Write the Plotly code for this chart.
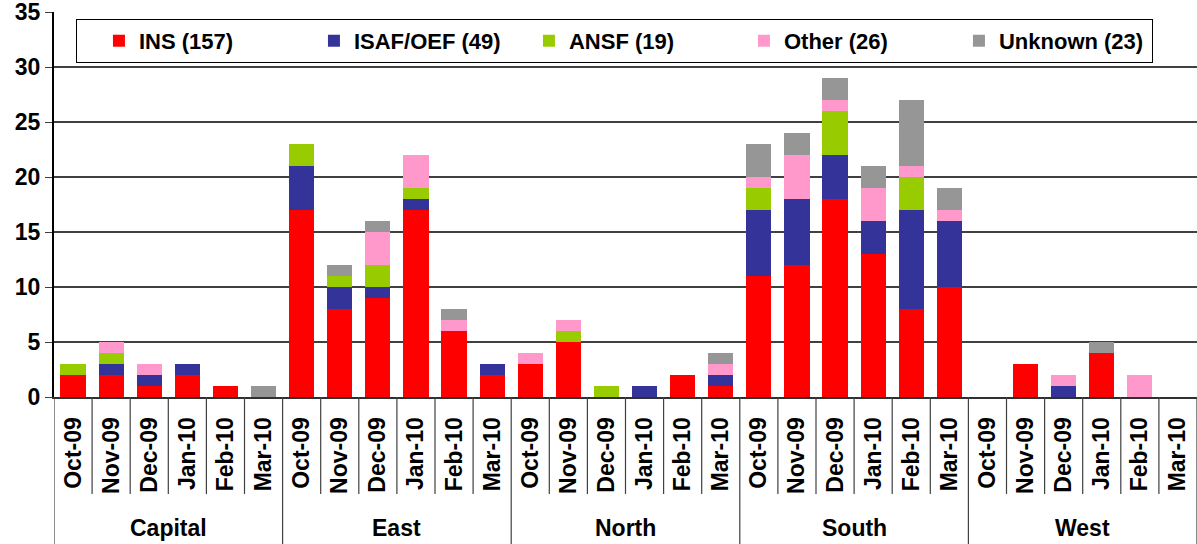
import plotly.graph_objects as go

regions = ["Capital", "East", "North", "South", "West"]
months = ["Oct-09", "Nov-09", "Dec-09", "Jan-10", "Feb-10", "Mar-10"]

ins = [2, 2, 1, 2, 1, 0,
       17, 8, 9, 17, 6, 2,
       3, 5, 0, 0, 2, 1,
       11, 12, 18, 13, 8, 10,
       0, 3, 0, 4, 0, 0]
isaf = [0, 1, 1, 1, 0, 0,
        4, 2, 1, 1, 0, 1,
        0, 0, 0, 1, 0, 1,
        6, 6, 4, 3, 9, 6,
        0, 0, 1, 0, 0, 0]
ansf = [1, 1, 0, 0, 0, 0,
        2, 1, 2, 1, 0, 0,
        0, 1, 1, 0, 0, 0,
        2, 0, 4, 0, 3, 0,
        0, 0, 0, 0, 0, 0]
other = [0, 1, 1, 0, 0, 0,
         0, 0, 3, 3, 1, 0,
         1, 1, 0, 0, 0, 1,
         1, 4, 1, 3, 1, 1,
         0, 0, 1, 0, 2, 0]
unknown = [0, 0, 0, 0, 0, 1,
           0, 1, 1, 0, 1, 0,
           0, 0, 0, 0, 0, 1,
           3, 2, 2, 2, 6, 2,
           0, 0, 0, 1, 0, 0]

series_names = ["INS (157)", "ISAF/OEF (49)", "ANSF (19)", "Other (26)", "Unknown (23)"]
series_values = [ins, isaf, ansf, other, unknown]
series_colors = ["#FF0000", "#333399", "#99CC00", "#FF99CC", "#969696"]

n_m = len(months)
xpos = list(range(len(regions) * n_m))
tick_text = [m for _ in regions for m in months]

FONT = "Liberation Sans, Arial, sans-serif"

fig = go.Figure()
for name, vals, col in zip(series_names, series_values, series_colors):
    fig.add_trace(go.Bar(x=xpos, y=vals, name=name, marker=dict(color=col, line=dict(width=0))))

shapes = []
for b in range(len(xpos) + 1):
    xb = b - 0.5
    is_group = (b % n_m == 0)
    shapes.append(dict(type="line", xref="x", yref="paper", x0=xb, x1=xb,
                       y0=0, y1=-0.385 if is_group else -0.252,
                       line=dict(color="#404040", width=1.2)))

annotations = []
for gi, r in enumerate(regions):
    annotations.append(dict(x=gi * n_m + (n_m - 1) / 2, y=-0.340, xref="x", yref="paper",
                            text=r, showarrow=False, yanchor="middle",
                            font=dict(family=FONT, size=23, color="black", weight="bold")))

fig.update_layout(
    width=1197, height=544,
    margin=dict(l=54, r=0, t=12, b=147, autoexpand=False),
    paper_bgcolor="white", plot_bgcolor="white",
    barmode="stack", bargap=0.34,
    shapes=shapes, annotations=annotations,
    legend=dict(orientation="h", x=0.0192, y=0.982, xanchor="left", yanchor="top",
                bgcolor="white", bordercolor="black", borderwidth=1,
                traceorder="normal", entrywidthmode="pixels", entrywidth=148,
                indentation=22,
                font=dict(family=FONT, size=22, color="black", weight="bold")),
    xaxis=dict(range=[-0.5, 29.5], tickmode="array", tickvals=xpos, ticktext=tick_text,
               tickangle=-90, showgrid=False, showline=True, linecolor="#303030", linewidth=2,
               ticks="", ticklabelstandoff=9, automargin=False,
               tickfont=dict(family=FONT, size=23, color="black", weight="bold")),
    yaxis=dict(range=[0, 35], dtick=5, showgrid=True, gridcolor="#404040", gridwidth=1.5,
               showline=True, linecolor="black", linewidth=2, ticks="outside", ticklen=7,
               tickcolor="#404040", zeroline=False, automargin=False,
               ticklabeloverflow="allow",
               tickfont=dict(family=FONT, size=23, color="black", weight="bold")),
)

# remove the page's default 8px body margin so the figure sits at the window's corner
fig.write_html("out.html", config={"displayModeBar": False},
               post_script="document.body.style.margin='0px';")
